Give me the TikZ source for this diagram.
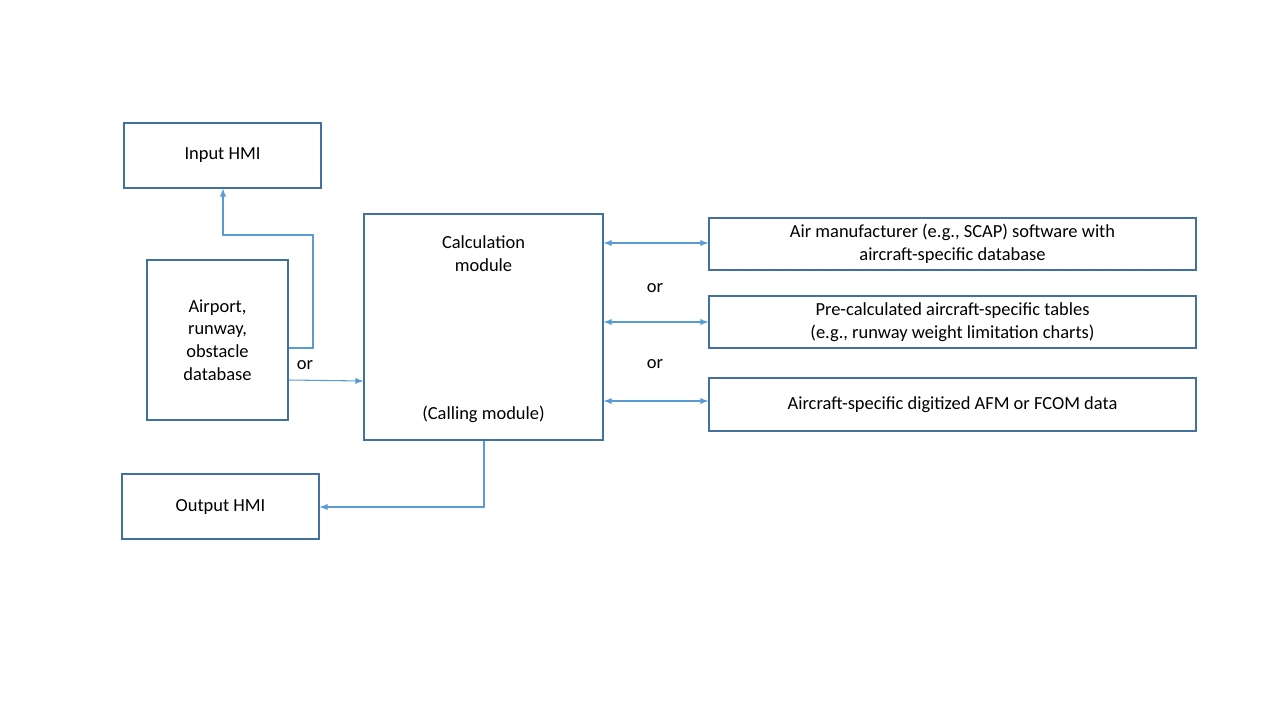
\documentclass[tikz,border=0pt]{standalone}
\usepackage{fontspec}
\setmainfont{Carlito}
\usetikzlibrary{calc}
\definecolor{boxline}{HTML}{41719C}
\definecolor{arrowline}{HTML}{5B9BD5}
\tikzset{
  blockbox/.style={draw=boxline, line width=0.6pt, align=center, inner sep=2pt,
    font=\fontsize{10.5}{13}\selectfont},
  link/.style={draw=arrowline, line width=0.6pt, -latex},
  both/.style={draw=arrowline, line width=0.6pt, latex-latex},
  orlabel/.style={font=\fontsize{10.5}{13}\selectfont}
}
\begin{document}
\begin{tikzpicture}[x=0.02cm,y=-0.02cm]
\useasboundingbox (0,0) rectangle (1280,720);
% left column
\node (input) [blockbox, minimum width=197*0.02cm, minimum height=65*0.02cm] at (222.5,155.5) {Input HMI};
\node (airport) [blockbox, minimum width=141*0.02cm, minimum height=160*0.02cm] at (217.5,340) {Airport,\\runway,\\obstacle\\database};
\node (output) [blockbox, minimum width=197*0.02cm, minimum height=65*0.02cm] at (220.5,506.5) {Output HMI};
% calculation module
\node (calc) [blockbox, minimum width=239*0.02cm, minimum height=226*0.02cm] at (483.5,327) {};
\node (calctop) [orlabel, align=center] at (483.5,254) {Calculation\\module};
\node (calcbot) [orlabel] at (483.5,414) {(Calling module)};
% right column
\node (scap) [blockbox, minimum width=487*0.02cm, minimum height=52*0.02cm] at (952.5,244) {Air manufacturer (e.g., SCAP) software with\\aircraft-specific database};
\node (tables) [blockbox, minimum width=487*0.02cm, minimum height=52*0.02cm] at (952.5,322) {Pre-calculated aircraft-specific tables\\(e.g., runway weight limitation charts)};
\node (afm) [blockbox, minimum width=487*0.02cm, minimum height=53*0.02cm] at (952.5,404.5) {Aircraft-specific digitized AFM or FCOM data};
% or labels
\node (or1) [orlabel] at (305,365) {or};
\node (or2) [orlabel] at (655,288) {or};
\node (or3) [orlabel] at (655,364) {or};
% connectors
\draw [link] (airport.east |- 0,348) -- (313,348) -- (313,235) -- (223,235) -- (input.south -| 223,0);
\draw [link] (airport.east |- 0,380) -- (calc.west |- 0,381);
\draw [link] (calc.south -| 484,0) -- (484,507) -- (output.east |- 0,507);
\draw [both] (calc.east |- 0,243) -- (scap.west |- 0,243);
\draw [both] (calc.east |- 0,322) -- (tables.west |- 0,322);
\draw [both] (calc.east |- 0,401) -- (afm.west |- 0,401);
\end{tikzpicture}
\end{document}
